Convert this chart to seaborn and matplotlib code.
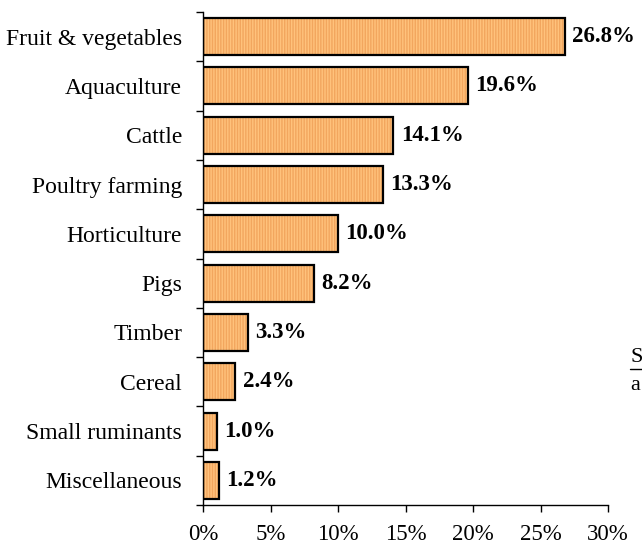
import matplotlib
matplotlib.use("Agg")
import matplotlib.pyplot as plt
import seaborn as sns
import pandas as pd
import numpy as np

# data
categories = ["Fruit & vegetables", "Aquaculture", "Cattle", "Poultry farming",
              "Horticulture", "Pigs", "Timber", "Cereal", "Small ruminants",
              "Miscellaneous"]
shares = [26.8, 19.6, 14.1, 13.3, 10.0, 8.2, 3.3, 2.4, 1.0, 1.2]
xticks = [0, 5, 10, 15, 20, 25, 30]

df = pd.DataFrame({"category": categories, "share": shares})

sns.set_style("white")
plt.rcParams['font.family'] = ['Liberation Serif', 'DejaVu Serif']
plt.rcParams['text.color'] = 'black'
plt.rcParams['xtick.color'] = 'black'
plt.rcParams['ytick.color'] = 'black'

fig = plt.figure(figsize=(6.42, 5.45), dpi=100)
ax = fig.add_axes([203 / 642, 1 - 505 / 545, 405 / 642, 493 / 545])

# hatched fill, then a black outline on top
sns.barplot(data=df, x="share", y="category", orient="h", ax=ax,
            color="#FFC27C", width=0.75, edgecolor="#F2A65E",
            linewidth=0, hatch="||||||", saturation=1)
sns.barplot(data=df, x="share", y="category", orient="h", ax=ax,
            fill=False, width=0.75, edgecolor="black", linewidth=1.6)

for i, v in enumerate(shares):
    ax.text(v + 0.55, i, f"{v:.1f}%", va="center", ha="left",
            fontsize=16.5, fontweight="bold")

ax.set_xlim(0, 30)
ax.set_ylim(len(categories) - 0.5, -0.5)
ax.set_xticks(xticks)
ax.set_xticklabels([f"{t}%" for t in xticks])
ax.set_xlabel("")
ax.set_ylabel("")

ax.set_yticks(np.arange(len(categories) + 1) - 0.5, minor=True)
ax.tick_params(axis="y", which="major", length=0, pad=15, labelsize=17)
ax.tick_params(axis="y", which="minor", length=5, width=1, direction="out", left=True)
ax.tick_params(axis="x", length=5, width=1, direction="out", bottom=True,
               pad=9, labelsize=16.5)

for s in ["top", "right"]:
    ax.spines[s].set_visible(False)
for s in ["left", "bottom"]:
    ax.spines[s].set_color("black")
    ax.spines[s].set_linewidth(1)

# fragments of the surrounding page text
fig.text(0.982, 1 - 357 / 545, "S", fontsize=16, va="center", ha="left")
fig.add_artist(plt.Line2D([0.982, 1.0], [1 - 369 / 545, 1 - 369 / 545],
                          color="black", linewidth=1))
fig.text(0.982, 1 - 385 / 545, "a", fontsize=16, va="center", ha="left")

fig.savefig("out.png", dpi=100)
